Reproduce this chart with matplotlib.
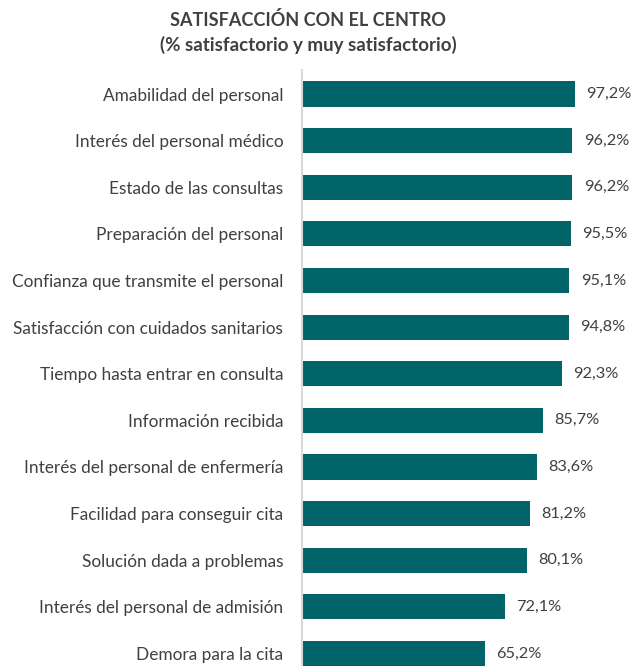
import matplotlib.pyplot as plt

categorias = [
    "Amabilidad del personal",
    "Interés del personal médico",
    "Estado de las consultas",
    "Preparación del personal",
    "Confianza que transmite el personal",
    "Satisfacción con cuidados sanitarios",
    "Tiempo hasta entrar en consulta",
    "Información recibida",
    "Interés del personal de enfermería",
    "Facilidad para conseguir cita",
    "Solución dada a problemas",
    "Interés del personal de admisión",
    "Demora para la cita",
]
valores = [97.2, 96.2, 96.2, 95.5, 95.1, 94.8, 92.3, 85.7, 83.6, 81.2, 80.1, 72.1, 65.2]

plt.rcParams['font.family'] = ['Lato', 'DejaVu Sans']

fig = plt.figure(figsize=(6.38, 6.66), dpi=100)
ax = fig.add_axes([302 / 638, 0, 1 - 302 / 638, (666 - 70) / 666])

pos = list(range(len(categorias)))
ax.barh(pos, valores, height=0.54, color='#006468')
for p, v in zip(pos, valores):
    ax.text(v + 4, p, f"{v:.1f}%".replace('.', ','), va='center', ha='left',
            fontsize=11.8, color='#404040')

ax.set_xlim(0, 119.5)
ax.set_ylim(12.27, -0.515)
ax.set_yticks(pos)
ax.set_yticklabels(categorias, fontsize=12.4, color='#404040')
ax.tick_params(axis='y', length=0, pad=13.5)
ax.set_xticks([])
for s in ['top', 'right', 'bottom']:
    ax.spines[s].set_visible(False)
ax.spines['left'].set_color('#d9d9d9')
ax.spines['left'].set_linewidth(1.5)

fig.text(308 / 638, 1 - 20 / 666, "SATISFACCIÓN CON EL CENTRO", ha='center', va='center',
         fontsize=13, fontweight='bold', color='#404040')
fig.text(308 / 638, 1 - 45 / 666, "(% satisfactorio y muy satisfactorio)", ha='center', va='center',
         fontsize=13.5, fontweight='bold', color='#404040')

fig.savefig('out.png', dpi=100)
